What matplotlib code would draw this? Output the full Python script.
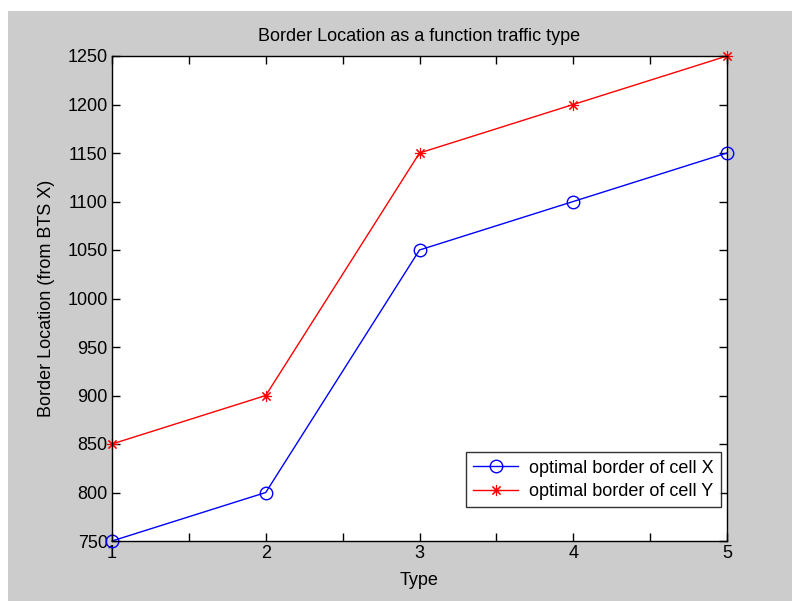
import matplotlib
matplotlib.use("Agg")
import matplotlib.pyplot as plt
from matplotlib.patches import Rectangle
from matplotlib.ticker import MultipleLocator, FuncFormatter

plt.rcParams['font.family'] = ['Liberation Sans', 'DejaVu Sans']

traffic_type = [1, 2, 3, 4, 5]
border_cell_x = [750, 800, 1050, 1100, 1150]
border_cell_y = [850, 900, 1150, 1200, 1250]

fig = plt.figure(figsize=(7.92, 6.01), dpi=100, facecolor='white')
fig.patches.append(Rectangle((8 / 792, 0), 1, 1 - 11 / 601, transform=fig.transFigure,
                             facecolor='#cccccc', edgecolor='none', zorder=-10))

ax = fig.add_axes([112 / 792, 60 / 601, (727 - 112) / 792, (541 - 56) / 601])
ax.set_facecolor('white')

ax.plot(traffic_type, border_cell_x, color='blue', lw=1, marker='o', ms=9,
        mfc='none', mec='blue', mew=1, label='optimal border of cell X', clip_on=False)
ax.plot(traffic_type, border_cell_y, color='red', lw=1, marker=(8, 2, 0), ms=8,
        mec='red', mew=0.8, label='optimal border of cell Y', clip_on=False)

ax.set_xlim(1, 5)
ax.set_ylim(750, 1250)
ax.xaxis.set_major_locator(MultipleLocator(0.5))
ax.xaxis.set_major_formatter(FuncFormatter(lambda v, p: f"{int(v)}" if abs(v - round(v)) < 1e-9 else ""))
ax.yaxis.set_major_locator(MultipleLocator(50))

ax.tick_params(direction='in', length=6, width=1, labelsize=13, top=True, right=True,
               pad=3, colors='black')
for s in ax.spines.values():
    s.set_linewidth(1)

ax.set_title('Border Location as a function traffic type', fontsize=13, pad=11)
ax.set_xlabel('Type', fontsize=13, labelpad=7)
ax.set_ylabel('Border Location (from BTS X)', fontsize=13, labelpad=9)

leg = ax.legend(loc='lower right', bbox_to_anchor=(0.990, 0.070), fontsize=13,
                frameon=True, fancybox=False, edgecolor='black', handlelength=2.5,
                borderaxespad=0, borderpad=0.4, labelspacing=0.35, handletextpad=0.6)
leg.get_frame().set_linewidth(1)

fig.savefig('out.png', dpi=100, facecolor=fig.get_facecolor())
